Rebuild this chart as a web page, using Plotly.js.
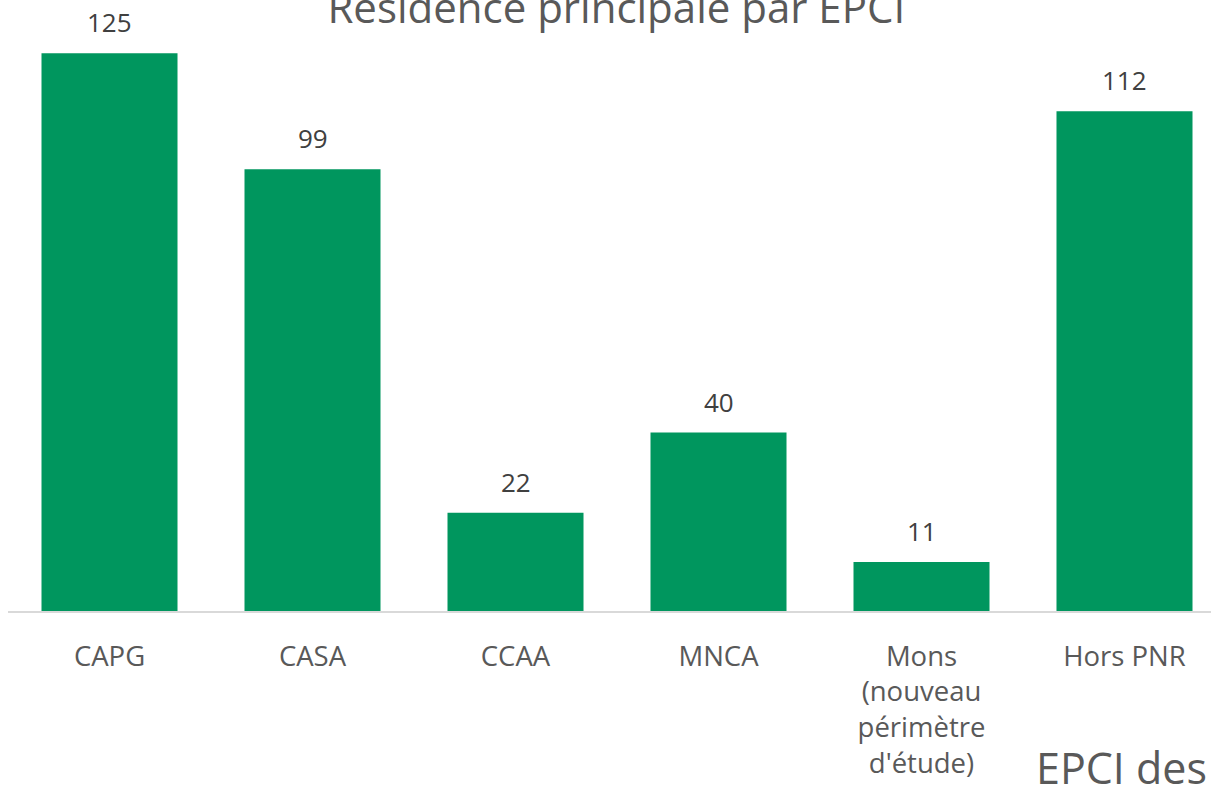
<!DOCTYPE html>
<html>
<head>
<meta charset="utf-8">
<script src="https://cdn.plot.ly/plotly-3.0.1.min.js"></script>
<style>
  html, body { margin: 0; padding: 0; overflow: hidden; background: #fff; }
  #chart { width: 1240px; height: 786px; }
</style>
</head>
<body>
<div id="chart"></div>
<script>
// catégories (EPCI) et nombre de résidences principales
const categories = ['CAPG', 'CASA', 'CCAA', 'MNCA', 'Mons', 'Hors PNR'];
const tickLabels = ['CAPG', 'CASA', 'CCAA', 'MNCA', 'Mons<br>(nouveau<br>périmètre<br>d\'étude)', 'Hors PNR'];
const values = [125, 99, 22, 40, 11, 112];

const fontFamily = '"Open Sans", "DejaVu Sans", sans-serif';

const trace = {
    type: 'bar',
    x: categories,
    y: values,
    marker: { color: '#00965E' },
    hoverinfo: 'none'
};

// étiquettes de valeur au-dessus des barres
const labels = values.map((v, i) => ({
    x: categories[i],
    y: v,
    xref: 'x',
    yref: 'y',
    text: String(v),
    showarrow: false,
    yanchor: 'bottom',
    yshift: 11,
    font: { family: fontFamily, size: 26, color: '#404040' }
}));

// titre d'axe (coupé en bas comme dans l'original)
labels.push({
    xref: 'paper',
    yref: 'paper',
    x: 0.986,
    y: -0.269,
    xanchor: 'right',
    yanchor: 'middle',
    text: 'EPCI des',
    showarrow: false,
    font: { family: fontFamily, size: 43, color: '#595959' }
});

const layout = {
    width: 1240,
    height: 786,
    margin: { l: 8, r: 14, t: 31, b: 175 },
    paper_bgcolor: '#ffffff',
    plot_bgcolor: '#ffffff',
    showlegend: false,
    bargap: 0.33,
    title: {
        text: 'Résidence principale par EPCI',
        font: { family: fontFamily, size: 42, color: '#595959' },
        x: 0.497,
        xref: 'container',
        xanchor: 'center',
        y: 1 - 8 / 786,
        yref: 'container',
        yanchor: 'middle'
    },
    xaxis: {
        type: 'category',
        tickvals: categories,
        ticktext: tickLabels,
        showline: true,
        linecolor: '#d9d9d9',
        linewidth: 1.5,
        ticks: '',
        ticklabelstandoff: 20,
        showgrid: false,
        tickfont: { family: fontFamily, size: 27.5, color: '#595959' },
        fixedrange: true
    },
    yaxis: {
        range: [0, 130],
        visible: false,
        showgrid: false,
        zeroline: false,
        fixedrange: true
    },
    annotations: labels
};

Plotly.newPlot('chart', [trace], layout, { displayModeBar: false, staticPlot: true });
</script>
</body>
</html>
